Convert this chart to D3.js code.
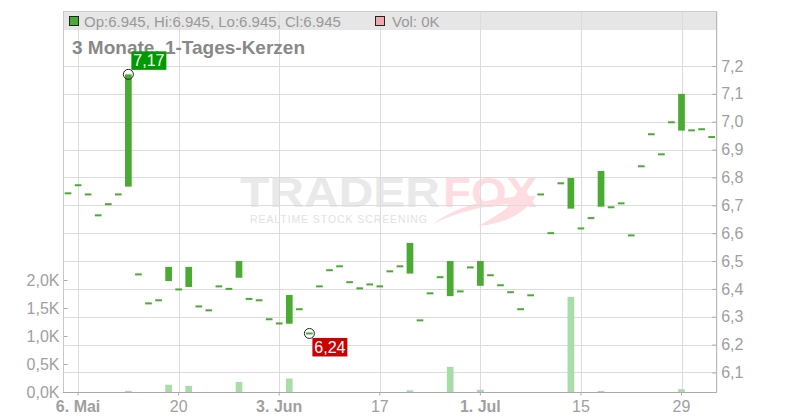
<!DOCTYPE html>
<html><head><meta charset="utf-8">
<script src="https://cdn.jsdelivr.net/npm/d3@7"></script>
<style>body{margin:0;background:#fff}svg{display:block;font-family:"Liberation Sans",Arial,sans-serif}</style>
</head><body><svg id="c" width="800" height="420"></svg>
<script>
const dates = ["2024-05-03","2024-05-06","2024-05-07","2024-05-08","2024-05-09","2024-05-10","2024-05-13","2024-05-14","2024-05-15","2024-05-16","2024-05-17","2024-05-20","2024-05-21","2024-05-22","2024-05-23","2024-05-24","2024-05-27","2024-05-28","2024-05-29","2024-05-30","2024-05-31","2024-06-03","2024-06-04","2024-06-05","2024-06-06","2024-06-07","2024-06-10","2024-06-11","2024-06-12","2024-06-13","2024-06-14","2024-06-17","2024-06-18","2024-06-19","2024-06-20","2024-06-21","2024-06-24","2024-06-25","2024-06-26","2024-06-27","2024-06-28","2024-07-01","2024-07-02","2024-07-03","2024-07-04","2024-07-05","2024-07-08","2024-07-09","2024-07-10","2024-07-11","2024-07-12","2024-07-15","2024-07-16","2024-07-17","2024-07-18","2024-07-19","2024-07-22","2024-07-23","2024-07-24","2024-07-25","2024-07-26","2024-07-29","2024-07-30","2024-07-31","2024-08-01"];
const openP = [6.743,6.772,6.739,6.664,6.704,6.739,6.767,6.452,6.348,6.359,6.428,6.398,6.407,6.337,6.323,6.409,6.400,6.440,6.364,6.359,6.291,6.276,6.275,6.327,6.240,6.409,6.467,6.481,6.424,6.402,6.416,6.409,6.463,6.481,6.455,6.287,6.384,6.442,6.374,6.391,6.477,6.411,6.449,6.413,6.388,6.327,6.377,6.739,6.600,6.779,6.688,6.617,6.654,6.695,6.693,6.707,6.592,6.840,6.955,6.883,6.998,6.968,6.969,6.973,6.945];
const closeP = [6.743,6.772,6.739,6.664,6.704,6.739,7.170,6.452,6.348,6.359,6.479,6.398,6.479,6.337,6.323,6.409,6.400,6.500,6.364,6.359,6.291,6.276,6.378,6.327,6.240,6.409,6.467,6.481,6.424,6.402,6.416,6.409,6.463,6.481,6.565,6.287,6.384,6.442,6.500,6.391,6.477,6.500,6.449,6.413,6.388,6.327,6.377,6.739,6.600,6.779,6.798,6.617,6.654,6.823,6.693,6.707,6.592,6.840,6.955,6.883,6.998,7.100,6.969,6.973,6.945];
const volumeK = [0,0,0,0,0,0,0.02,0,0,0,0.13,0,0.11,0,0,0,0,0.18,0,0,0,0,0.24,0,0,0,0,0,0,0,0,0,0,0,0.03,0,0,0,0.45,0,0,0.04,0,0,0,0,0,0,0,0,1.70,0,0,0.02,0,0,0,0,0,0,0,0.05,0,0,0];
const priceTicks = [6.1,6.2,6.3,6.4,6.5,6.6,6.7,6.8,6.9,7.0,7.1,7.2];
const volTicks = [0,0.5,1.0,1.5,2.0];
const xTickDates = ["2024-05-06","2024-05-20","2024-06-03","2024-06-17","2024-07-01","2024-07-15","2024-07-29"];
const xTickLabels = ["6. Mai","20","3. Jun","17","1. Jul","15","29"];
const xTickBold = [true,false,true,false,true,false,false];
const highMark = {date:"2024-05-13", value:7.17, label:"7,17"};
const lowMark = {date:"2024-06-06", value:6.24, label:"6,24"};
const legendText = "Op:6.945, Hi:6.945, Lo:6.945, Cl:6.945";
const volLegend = "Vol: 0K";
const title = "3 Monate, 1-Tages-Kerzen";

const L=63, R=716.7, T=11, B=392;
const svg = d3.select("#c");
const x = d3.scaleBand().domain(dates).range([L,R]).padding(0);
const cx = d => x(d)+x.bandwidth()/2;
const y = d3.scaleLinear().domain([6.0299,7.3974]).range([B,T]);
const yv = d3.scaleLinear().domain([0,2]).range([B,280]);
const GRID="#dcdcdc", AX="#aaaaaa", TXT="#a0a0a0";

// header band
svg.append("rect").attr("x",L).attr("y",T).attr("width",R-L).attr("height",19).attr("fill","#e6e6e6");

// watermark
const wm = svg.append("g");
wm.append("text").attr("x",240).attr("y",207).attr("font-size",42).attr("font-weight","bold")
  .attr("textLength",200).attr("lengthAdjust","spacingAndGlyphs").attr("fill","#e9e9e9").text("TRADER");
wm.append("text").attr("x",443).attr("y",207).attr("font-size",42).attr("font-weight","bold")
  .attr("textLength",94).attr("lengthAdjust","spacingAndGlyphs").attr("fill","#ffdcdf").text("FOX");
wm.append("path").attr("d","M433,224 Q470,196 536,196 Q520,222 478,226 Q500,214 512,204 Q470,206 433,224 Z").attr("fill","#ffdcdf");
wm.append("text").attr("x",250).attr("y",223).attr("font-size",10.5)
  .attr("textLength",177).attr("lengthAdjust","spacing").attr("fill","#e2e2e2").text("REALTIME STOCK SCREENING");

// grid
svg.append("g").selectAll("line").data(priceTicks).join("line")
  .attr("x1",L).attr("x2",R).attr("y1",d=>Math.round(y(d))+0.5).attr("y2",d=>Math.round(y(d))+0.5)
  .attr("stroke",GRID);
svg.append("g").selectAll("line").data(xTickDates).join("line")
  .attr("x1",d=>Math.round(cx(d))+0.5).attr("x2",d=>Math.round(cx(d))+0.5).attr("y1",T).attr("y2",B)
  .attr("stroke",GRID);
svg.append("line").attr("x1",L).attr("x2",R).attr("y1",T+0.5).attr("y2",T+0.5).attr("stroke","#cccccc");

// volume bars
const bw = 6.7;
svg.append("g").selectAll("rect").data(dates.map((d,i)=>({d,v:volumeK[i]})).filter(e=>e.v>0)).join("rect")
  .attr("x",e=>cx(e.d)-bw/2).attr("width",bw)
  .attr("y",e=>yv(e.v)).attr("height",e=>B-yv(e.v)).attr("fill","#aadcaa");

// candles
const candles = dates.map((d,i)=>({d,o:openP[i],c:closeP[i]}));
svg.append("g").selectAll("rect").data(candles).join("rect")
  .attr("x",e=>cx(e.d)-bw/2).attr("width",bw)
  .attr("y",e=>{const a=y(Math.max(e.o,e.c)), b=y(Math.min(e.o,e.c)); return (b-a<2)?(a+b)/2-1:a;})
  .attr("height",e=>Math.max(2,y(Math.min(e.o,e.c))-y(Math.max(e.o,e.c))))
  .attr("fill","#4aab32");

// axes
const fmt = v => d3.format(".1f")(v).replace(".",",");
const ra = svg.append("g").attr("transform",`translate(${R-0.5},0)`)
  .call(d3.axisRight(y).tickValues(priceTicks).tickFormat(fmt).tickSizeInner(-4).tickSizeOuter(0).tickPadding(5));
const la = svg.append("g").attr("transform",`translate(${L+0.5},0)`)
  .call(d3.axisLeft(yv).tickValues(volTicks).tickFormat(v=>fmt(v)+"K").tickSizeInner(-4).tickSizeOuter(0).tickPadding(4));
la.select(".domain").remove();
svg.append("line").attr("x1",L+0.5).attr("x2",L+0.5).attr("y1",T).attr("y2",B).attr("stroke","#c8c8c8");
const ba = svg.append("g").attr("transform",`translate(0,${B+0.5})`)
  .call(d3.axisBottom(x).tickValues(xTickDates).tickFormat((d,i)=>xTickLabels[i]).tickSizeInner(3).tickSizeOuter(0).tickPadding(5));
ba.select(".domain").attr("d",`M${L},0H${R}`);
[ra,la,ba].forEach(a=>{
  a.selectAll(".domain").attr("stroke",AX);
  a.selectAll(".tick line").attr("stroke",AX);
  a.selectAll("text").attr("fill",TXT).attr("font-size",16).attr("font-family","Liberation Sans, Arial, sans-serif");
});
ba.selectAll("text").attr("font-weight",(d,i)=>xTickBold[i]?"bold":"normal");

// legend + title
svg.append("rect").attr("x",69.5).attr("y",16.5).attr("width",9).attr("height",9).attr("fill","#4aab32").attr("stroke","#222");
svg.append("text").attr("x",84).attr("y",27).attr("font-size",15).attr("fill","#999").text(legendText);
svg.append("rect").attr("x",375.5).attr("y",16.5).attr("width",9).attr("height",9).attr("fill","#f0a8b0").attr("stroke","#222");
svg.append("text").attr("x",392).attr("y",27).attr("font-size",15).attr("fill","#999").text(volLegend);
svg.append("text").attr("x",72).attr("y",54).attr("font-size",19).attr("font-weight","bold").attr("fill","#888").text(title);

// markers
function marker(m, above, col){
  const px=cx(m.date), py=y(m.value);
  svg.append("circle").attr("cx",px).attr("cy",py).attr("r",5).attr("fill","none").attr("stroke","#222").attr("stroke-width",1);
  const bx=px+3, by= above? py-23 : py+4.5;
  svg.append("rect").attr("x",bx).attr("y",by).attr("width",35).attr("height",18.5).attr("fill",col);
  svg.append("text").attr("x",bx+17.5).attr("y",by+15).attr("text-anchor","middle").attr("font-size",16)
    .attr("fill","#fff").text(m.label);
}
marker(highMark,true,"#009900");
marker(lowMark,false,"#cc0000");
</script></body></html>
